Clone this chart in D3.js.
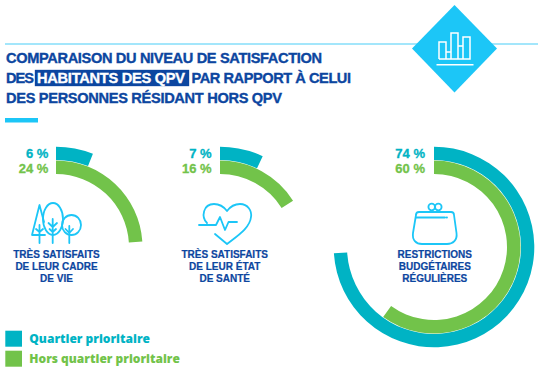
<!DOCTYPE html>
<html>
<head>
<meta charset="utf-8">
<script src="https://cdn.jsdelivr.net/npm/d3@7"></script>
<style>
  html, body { margin: 0; padding: 0; background: #fff; }
  svg { display: block; }
</style>
</head>
<body>
<div id="chart"></div>
<script>
const titleLines = ["COMPARAISON DU NIVEAU DE SATISFACTION", "PAR RAPPORT À CELUI", "DES PERSONNES RÉSIDANT HORS QPV"];
const categories = ["cadre", "sante", "budget"];
const quartierValues = [6, 7, 74];
const horsValues = [24, 16, 60];
const captions = [
  ["TRÈS SATISFAITS", "DE LEUR CADRE", "DE VIE"],
  ["TRÈS SATISFAITS", "DE LEUR ÉTAT", "DE SANTÉ"],
  ["RESTRICTIONS", "BUDGÉTAIRES", "RÉGULIÈRES"]
];
const seriesNames = ["Quartier prioritaire", "Hors quartier prioritaire"];

const width = 538, height = 386;
const teal = "#00b3c4", green = "#72c34a", navy = "#0c46a0", sky = "#1cc6f7";
const titleFont = "'Liberation Sans', Arial, sans-serif";
const labelFont = "'Open Sans', sans-serif";

const svg = d3.select("#chart").append("svg")
    .attr("width", width)
    .attr("height", height);

// header rule, diamond + small bar icon
svg.append("rect").attr("x", 5).attr("y", 43).attr("width", 533).attr("height", 2).attr("fill", "#a3e6fb");
svg.append("path").attr("d", "M454.500 5L497 48.500L454.500 92.500L412 48.500Z").attr("fill", sky);

const barIcon = svg.append("g").attr("fill", "none").attr("stroke", "#fff").attr("stroke-width", 1.500);
barIcon.append("path").attr("d", "M439 59V42H446V59M446 59V52H451V59M451 59V33H458V59M458 59V46H463V59M463 59V37H470V59H439");
barIcon.append("path").attr("d", "M436.500 64.800H473.500");

// title
const title = svg.append("g")
    .attr("font-family", titleFont)
    .attr("font-weight", "bold")
    .attr("font-size", 14.6)
    .attr("fill", navy)
    .attr("stroke", navy)
    .attr("stroke-width", 0.35);
title.append("text").attr("x", 6).attr("y", 63).attr("textLength", 316).text(titleLines[0]);
title.append("text").attr("x", 6).attr("y", 83).attr("textLength", 28).text("DES");
title.append("rect").attr("x", 35).attr("y", 70).attr("width", 154).attr("height", 16).attr("fill", navy);
title.append("text").attr("x", 37).attr("y", 83).attr("fill", "#fff").attr("stroke", "#fff").attr("textLength", 148).text("HABITANTS DES QPV");
title.append("text").attr("x", 191.500).attr("y", 83).attr("textLength", 159.500).text(titleLines[1]);
title.append("text").attr("x", 6).attr("y", 103).attr("textLength", 276).text(titleLines[2]);
svg.append("rect").attr("x", 5).attr("y", 118).attr("width", 33).attr("height", 4.500).attr("fill", sky);

// rings
const angle = d3.scaleLinear().domain([0, 100]).range([0, 2 * Math.PI]);
const xPos = {cadre: 56, sante: 220, budget: 434};
const centerY = 247;
const arcQuartier = d3.arc().innerRadius(87).outerRadius(100.300).startAngle(0);
const arcHors = d3.arc().innerRadius(73).outerRadius(86.500).startAngle(0);

const groups = svg.selectAll(".ring")
  .data(categories)
  .join("g")
    .attr("class", "ring")
    .attr("transform", d => `translate(${xPos[d]},${centerY})`);

groups.append("path")
    .attr("fill", teal)
    .attr("d", (d, i) => arcQuartier({endAngle: angle(quartierValues[i])}));
groups.append("path")
    .attr("fill", green)
    .attr("d", (d, i) => arcHors({endAngle: angle(horsValues[i])}));

// percent labels
const pctX = {cadre: 48.300, sante: 211.700, budget: 425};
const pct = svg.append("g")
    .attr("font-family", titleFont)
    .attr("font-weight", "bold")
    .attr("font-size", 13)
    .attr("stroke-width", 0.3)
    .attr("text-anchor", "end");
pct.selectAll(".q").data(categories).join("text").attr("class", "q")
    .attr("x", d => pctX[d]).attr("y", 158.300)
    .attr("fill", teal)
    .attr("stroke", teal)
    .text((d, i) => `${quartierValues[i]} %`);
pct.selectAll(".h").data(categories).join("text").attr("class", "h")
    .attr("x", d => pctX[d]).attr("y", 173.300)
    .attr("fill", green)
    .attr("stroke", green)
    .text((d, i) => `${horsValues[i]} %`);

// captions
const capX = {cadre: 56.500, sante: 224.700, budget: 434.800};
const cap = svg.append("g")
    .attr("font-family", titleFont)
    .attr("font-weight", "bold")
    .attr("font-size", 10)
    .attr("fill", navy)
    .attr("stroke", navy)
    .attr("stroke-width", 0.2)
    .attr("text-anchor", "middle");
categories.forEach((c, i) => {
  captions[i].forEach((line, j) => {
    cap.append("text").attr("x", capX[c]).attr("y", 258 + j * 12).text(line);
  });
});

// icons
const icons = svg.append("g").attr("fill", "none").attr("stroke", sky).attr("stroke-width", 1.800)
    .attr("stroke-linecap", "round").attr("stroke-linejoin", "round");
// trees
icons.append("path").attr("d", "M44 222L39.500 205L32 235H45");
icons.append("path").attr("d", "M39.500 225V243M36 229L39.500 232L43 229");
icons.append("ellipse").attr("cx", 53).attr("cy", 219).attr("rx", 10).attr("ry", 16);
icons.append("path").attr("d", "M52.700 219V243M48.500 223L52.700 227L57 223M49.500 229L52.700 232L56 229");
icons.append("ellipse").attr("cx", 71.500).attr("cy", 225).attr("rx", 9.500).attr("ry", 10);
icons.append("path").attr("d", "M69.300 226V243M65.500 229L69.300 233L73 229");
// heart + pulse
icons.append("path").attr("d", "M207 223C201 217 203 204 214 204C220 204 224 207 227 211C230 207 235 204 240 204C248 204 252 211 251 217C250 228 237 236 227 244L215 234");
icons.append("path").attr("d", "M199 225H216L220 217L225 230L228.500 222H237");
// purse
icons.append("path").attr("d", "M419 212H451C453 212 454 213 454 215L456.500 233C457.500 240 453 244 447 244H422C416 244 412 240 413 233L416 215C416 213 417 212 419 212Z");
icons.append("path").attr("d", "M416 217.500H445M446.700 217.500H447");
icons.append("circle").attr("cx", 431.700).attr("cy", 207).attr("r", 3.300);
icons.append("circle").attr("cx", 438.300).attr("cy", 207).attr("r", 3.300);

// legend
const legend = svg.selectAll(".legend")
  .data(seriesNames)
  .join("g")
    .attr("class", "legend")
    .attr("transform", (d, i) => `translate(5.300,${330.700 + i * 20})`);
legend.append("rect").attr("width", 16.700).attr("height", 16).attr("fill", (d, i) => i === 0 ? teal : green);
legend.append("text")
    .attr("x", 24)
    .attr("y", 12.600)
    .attr("font-family", labelFont)
    .attr("font-weight", 800)
    .attr("font-size", 12)
    .attr("fill", (d, i) => i === 0 ? teal : green)
    .text(d => d);
</script>
</body>
</html>
